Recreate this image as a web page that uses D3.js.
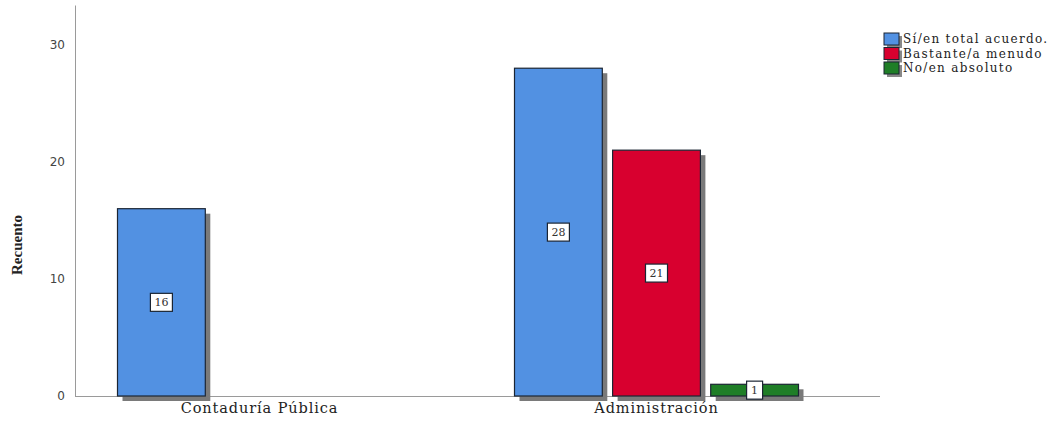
<!DOCTYPE html>
<html><head><meta charset="utf-8">
<script src="https://cdn.jsdelivr.net/npm/d3@7"></script>
<style>body{margin:0;background:#fff}svg{display:block}</style>
</head><body>
<script>
const categories = ["Contaduría Pública", "Administración"];
const seriesNames = ["Sí/en total acuerdo.", "Bastante/a menudo", "No/en absoluto"];
const seriesColors = ["#5291e2", "#d8002f", "#1f7e27"];
const contaduria = [16, 0, 0];
const administracion = [28, 21, 1];
const yTicks = [0, 10, 20, 30];
const values = [contaduria, administracion];

const W = 1054, H = 421;
const svg = d3.select("body").append("svg").attr("width", W).attr("height", H);

const y = d3.scaleLinear().domain([0, 33.4]).range([396, 5]);
const x0 = d3.scaleBand().domain(categories).range([61, 855]);
const x1 = d3.scaleBand().domain(seriesNames).range([0, 284]).paddingInner(0.105);
const groupOff = (x0.bandwidth() - 284) / 2;

// axes
const yAxis = svg.append("g").attr("transform", "translate(75,0)")
  .call(d3.axisLeft(y).tickValues(yTicks).tickSize(0).tickPadding(10).tickFormat(d3.format("d")));
yAxis.select(".domain").attr("stroke", "#9a9a9a");
yAxis.selectAll("text").attr("font-family", "DejaVu Sans, sans-serif").attr("font-size", 12).attr("fill", "#444");

const xAxis = svg.append("g").attr("transform", "translate(0,396)")
  .call(d3.axisBottom(x0).tickSize(0).tickPadding(7));
xAxis.select(".domain").attr("d", "M75,0.5H880").attr("stroke", "#9a9a9a");
xAxis.selectAll("text").attr("font-family", "DejaVu Serif, serif").attr("font-size", 14.5)
  .attr("letter-spacing", 0.9).attr("fill", "#222");

svg.append("text").attr("transform", "translate(22,245) rotate(-90)")
  .attr("text-anchor", "middle").attr("font-family", "Liberation Serif, serif")
  .attr("font-weight", "bold").attr("font-size", 15).attr("fill", "#222").text("Recuento");

// bars
const bars = [];
categories.forEach((c, ci) => {
  seriesNames.forEach((s, si) => {
    const v = values[ci][si];
    if (v > 0) bars.push({c, s, v, color: seriesColors[si]});
  });
});
const g = svg.append("g");
const bx = d => x0(d.c) + groupOff + x1(d.s);
// shadows
g.selectAll("rect.sh").data(bars).enter().append("rect").attr("class", "sh")
  .attr("x", d => bx(d) + 5).attr("y", d => y(d.v) + 5)
  .attr("width", x1.bandwidth()).attr("height", d => y(0) - y(d.v))
  .attr("fill", "#7a7a7a");
g.selectAll("rect.bar").data(bars).enter().append("rect").attr("class", "bar")
  .attr("x", d => bx(d)).attr("y", d => y(d.v))
  .attr("width", x1.bandwidth()).attr("height", d => y(0) - y(d.v))
  .attr("fill", d => d.color).attr("stroke", "#1b2533").attr("stroke-width", 1.2);

// labels
const lab = g.selectAll("g.lab").data(bars).enter().append("g").attr("class", "lab")
  .attr("transform", d => `translate(${bx(d) + x1.bandwidth() / 2},${(y(d.v) + y(0)) / 2})`);
lab.append("rect").attr("x", d => d.v >= 10 ? -11 : -8).attr("y", -9)
  .attr("width", d => d.v >= 10 ? 22 : 16).attr("height", 18)
  .attr("fill", "#fff").attr("stroke", "#1b2533").attr("stroke-width", 1.2);
lab.append("text").attr("text-anchor", "middle").attr("dy", "0.36em")
  .attr("font-family", "DejaVu Serif, serif").attr("font-size", 11).attr("fill", "#333")
  .text(d => d.v);

// legend
const leg = svg.append("g").attr("transform", "translate(884,33)");
seriesNames.forEach((s, i) => {
  const r = leg.append("g").attr("transform", `translate(0,${i * 14.5})`);
  r.append("rect").attr("x", 3).attr("y", 3).attr("width", 15).attr("height", 12).attr("fill", "#888");
  r.append("rect").attr("width", 15).attr("height", 12).attr("fill", seriesColors[i])
    .attr("stroke", "#1b2533").attr("stroke-width", 1);
  r.append("text").attr("x", 19).attr("y", 10).attr("font-family", "DejaVu Serif, serif")
    .attr("font-size", 12).attr("letter-spacing", 1.3).attr("fill", "#222").text(s);
});
</script>
</body></html>
